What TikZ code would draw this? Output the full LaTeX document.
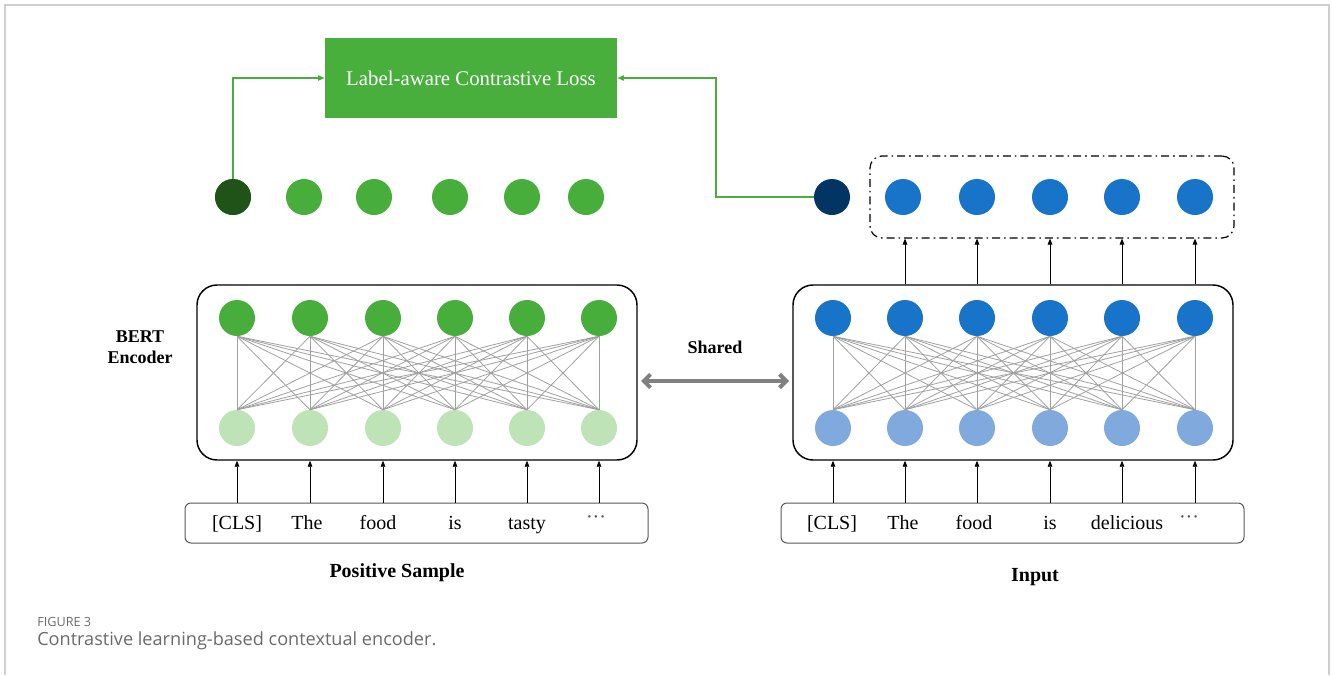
\documentclass[tikz,border=0pt]{standalone}
\usepackage{fontspec}
\setmainfont{Liberation Serif}
\newfontfamily\capfont{Open Sans}
\usetikzlibrary{arrows.meta}
\definecolor{lossgreen}{HTML}{48AE3C}
\definecolor{cgreen}{HTML}{47AE3C}
\definecolor{dgreen}{HTML}{1F5318}
\definecolor{lgreen}{HTML}{BEE3B6}
\definecolor{cblue}{HTML}{1874C9}
\definecolor{lblue}{HTML}{80AADE}
\definecolor{navy}{HTML}{033564}
\definecolor{edgegray}{HTML}{A0A0A0}
\definecolor{framegray}{HTML}{CFCFCF}
\definecolor{capgray}{HTML}{6A6A6A}
\definecolor{sharegray}{HTML}{808080}
\tikzset{
  dot/.style={circle, inner sep=0pt, minimum size=27pt, draw=none},
  encbox/.style={draw=black, line width=1.1pt, rounded corners=15pt, minimum width=330pt, minimum height=131.25pt},
  txtbox/.style={draw=black!65, line width=0.75pt, rounded corners=4.5pt, minimum width=347.25pt, minimum height=30pt},
  word/.style={anchor=base, inner sep=0pt, font=\fontsize{15}{18}\selectfont},
  boldlbl/.style={font=\bfseries\fontsize{15}{18}\selectfont},
  edge/.style={draw=edgegray, line width=0.6pt},
  inarrow/.style={draw=black, line width=0.6pt, -{Triangle[length=4.5pt,width=3.5pt]}},
  garrow/.style={draw=lossgreen, line width=0.8pt, -{Triangle[length=5pt,width=4pt]}},
  shared/.style={draw=sharegray, line width=3pt, {Straight Barb[length=5pt,width=10pt]}-{Straight Barb[length=5pt,width=10pt]}},
}
\begin{document}
\begin{tikzpicture}[x=0.75pt,y=-0.75pt]
\useasboundingbox (0,0) rectangle (1332,675);
% frame
\draw[framegray, line width=1pt] (5,675) -- (5,5) -- (1329,5) -- (1329,675);

% loss box
\node[fill=lossgreen, minimum width=219pt, minimum height=60pt, inner sep=0pt,
      text=white, font=\fontsize{15.6}{18}\selectfont] (loss) at (471,78) {Label-aware Contrastive Loss};

% left output row
\foreach \x [count=\i] in {233,304,374,450,522,586}
  \node[dot, fill=cgreen] (lg\i) at (\x,197) {};
\node[dot, fill=dgreen] at (lg1) {};

% right output row
\node[dot, fill=navy] (rn) at (832,197) {};
\foreach \x [count=\i] in {903,977,1050,1122,1195}
  \node[dot, fill=cblue] (rb\i) at (\x,197) {};
\node[draw=black, line width=0.9pt, dash pattern=on 6pt off 3pt on 1.2pt off 3pt,
      rounded corners=9pt, minimum width=273pt, minimum height=61.5pt] (rout) at (1052,197) {};

% green connectors
\coordinate (bend) at (716,197);
\draw[garrow] (lg1.north) |- (loss.west);
\draw[garrow] (rn.west) -- (bend) |- (loss.east);

% encoders
\node[encbox] (lenc) at (417,372.5) {};
\node[encbox] (renc) at (1013,372.5) {};

\foreach \x [count=\i] in {237,310,383,455,527,599} {
  \node[dot, fill=cgreen] (lt\i) at (\x,318) {};
  \node[dot, fill=lgreen] (lb\i) at (\x,428) {};
}
\foreach \x [count=\i] in {833,905,977,1050,1122,1195} {
  \node[dot, fill=cblue] (rt\i) at (\x,318) {};
  \node[dot, fill=lblue] (rb\i x) at (\x,428) {};
}
\foreach \i in {1,...,6}
  \foreach \j in {1,...,6} {
    \draw[edge] (lt\i.south) -- (lb\j.north);
    \draw[edge] (rt\i.south) -- (rb\j x.north);
  }

% text boxes
\node[txtbox] (ltext) at (416.5,523) {};
\node[txtbox] (rtext) at (1012.5,523) {};

\node[word] (lw1) at (237,529) {[CLS]};
\node[word] (lw2) at (307,529) {The};
\node[word] (lw3) at (378,529) {food};
\node[word] (lw4) at (455,529) {is};
\node[word] (lw5) at (527,529) {tasty};
\node[word, text=black!70] (lw6) at (596,523) {···};

\node[word] (rw1) at (832,529) {[CLS]};
\node[word] (rw2) at (903,529) {The};
\node[word] (rw3) at (974,529) {food};
\node[word] (rw4) at (1050,529) {is};
\node[word] (rw5) at (1127,529) {delicious};
\node[word, text=black!70] (rw6) at (1189,523) {···};

% input arrows
\foreach \i in {1,...,6} {
  \draw[inarrow] (lb\i |- ltext.north) -- (lb\i |- lenc.south);
  \draw[inarrow] (rb\i x |- rtext.north) -- (rb\i x |- renc.south);
}
\foreach \i in {2,...,6}
  \draw[inarrow] (rt\i |- renc.north) -- (rt\i |- rout.south);

% shared
\coordinate (sa) at (641,381);
\coordinate (sb) at (789,381);
\draw[shared] (sa) -- (sb);
\node[font=\bfseries\fontsize{13.5}{16}\selectfont] (sharedlbl) at (715,347) {Shared};

% labels
\node[align=center, font=\bfseries\fontsize{13.5}{15.75}\selectfont] (bert) at (140,347) {BERT\\Encoder};
\node[boldlbl] (pos) at (397,573) {Positive Sample};
\node[boldlbl] (inp) at (1035,577) {Input};

% caption
\node[anchor=west, inner sep=0pt, text=capgray, font=\capfont\fontsize{9.5}{11}\selectfont] (fig) at (37,622) {FIGURE 3};
\node[anchor=west, inner sep=0pt, text=capgray, font=\capfont\fontsize{13.6}{16}\selectfont] (cap) at (37,641) {Contrastive learning-based contextual encoder.};
\end{tikzpicture}
\end{document}
